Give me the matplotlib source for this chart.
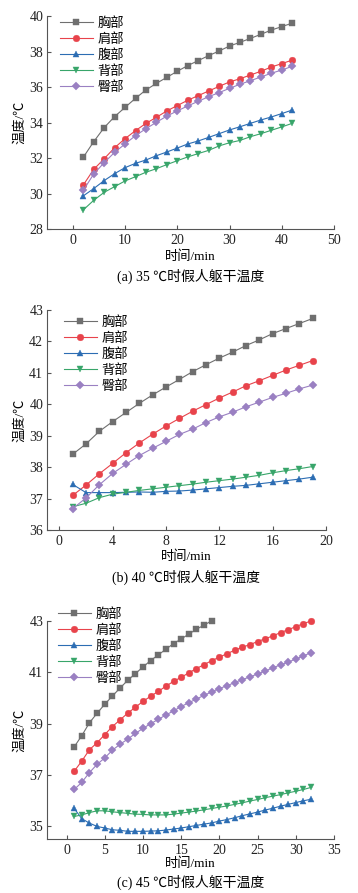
import matplotlib
matplotlib.use("Agg")
import matplotlib.pyplot as plt
import numpy as np

plt.rcParams['font.family'] = ['Liberation Serif', 'Noto Sans CJK SC']
plt.rcParams['axes.unicode_minus'] = False

names = ['胸部', '肩部', '腹部', '背部', '臀部']
colors = ['#6f6f6f', '#e8434b', '#2c6db3', '#38a56a', '#9a80c2']
markers = ['s', 'o', '^', 'v', 'D']

# (a) 35 ℃
t_a = np.arange(2, 43, 2)
a_chest = [32.05, 32.93, 33.72, 34.34, 34.86, 35.37, 35.84, 36.21, 36.55, 36.89, 37.21,
           37.49, 37.77, 38.03, 38.31, 38.52, 38.74, 38.97, 39.21, 39.40, 39.60]
a_shoulder = [30.49, 31.37, 31.97, 32.59, 33.10, 33.55, 33.96, 34.30, 34.66, 34.96, 35.26,
              35.52, 35.78, 36.04, 36.29, 36.47, 36.68, 36.89, 37.13, 37.32, 37.52]
a_belly = [29.88, 30.29, 30.74, 31.13, 31.47, 31.71, 31.90, 32.14, 32.35, 32.57, 32.80,
           32.97, 33.17, 33.38, 33.59, 33.77, 33.96, 34.15, 34.32, 34.51, 34.71]
a_back = [29.09, 29.63, 30.08, 30.40, 30.72, 30.96, 31.21, 31.41, 31.64, 31.86, 32.07,
          32.26, 32.44, 32.69, 32.87, 33.00, 33.21, 33.38, 33.57, 33.76, 33.96]
a_hip = [30.19, 31.11, 31.75, 32.33, 32.80, 33.27, 33.66, 34.02, 34.37, 34.66, 34.94,
         35.20, 35.46, 35.69, 35.93, 36.16, 36.36, 36.57, 36.78, 36.96, 37.17]

# (b) 40 ℃
t_b = np.arange(1, 20)
b_chest = [38.41, 38.74, 39.14, 39.45, 39.74, 40.03, 40.30, 40.55, 40.79, 41.04,
           41.26, 41.47, 41.66, 41.87, 42.05, 42.25, 42.41, 42.57, 42.73]
b_shoulder = [37.10, 37.43, 37.79, 38.12, 38.46, 38.77, 39.05, 39.31, 39.55, 39.78,
              39.99, 40.20, 40.39, 40.59, 40.75, 40.92, 41.09, 41.24, 41.39]
b_belly = [37.45, 37.19, 37.19, 37.19, 37.20, 37.21, 37.20, 37.23, 37.24, 37.27,
           37.31, 37.35, 37.39, 37.42, 37.47, 37.52, 37.57, 37.62, 37.68]
b_back = [36.74, 36.85, 37.03, 37.14, 37.20, 37.26, 37.31, 37.36, 37.41, 37.46,
          37.52, 37.57, 37.62, 37.68, 37.74, 37.82, 37.89, 37.95, 38.02]
b_hip = [36.68, 37.02, 37.44, 37.80, 38.09, 38.37, 38.60, 38.82, 39.04, 39.21,
         39.42, 39.60, 39.75, 39.92, 40.07, 40.22, 40.35, 40.49, 40.61]

# (c) 45 ℃
t_c = np.arange(1, 33)
t_c_chest = np.arange(1, 20)
c_chest = [38.10, 38.54, 39.04, 39.41, 39.76, 40.08, 40.39, 40.69, 40.95, 41.21,
           41.46, 41.68, 41.90, 42.12, 42.30, 42.49, 42.68, 42.84, 43.01]
c_shoulder = [37.15, 37.55, 37.99, 38.26, 38.58, 38.89, 39.15, 39.41, 39.64, 39.87,
              40.07, 40.26, 40.46, 40.65, 40.81, 40.98, 41.15, 41.30, 41.46, 41.59,
              41.73, 41.86, 41.98, 42.08, 42.20, 42.31, 42.42, 42.55, 42.66, 42.78,
              42.90, 43.00]
c_belly = [35.70, 35.30, 35.13, 35.00, 34.94, 34.87, 34.85, 34.81, 34.81, 34.81,
           34.82, 34.83, 34.86, 34.90, 34.94, 34.99, 35.04, 35.09, 35.14, 35.21,
           35.27, 35.34, 35.42, 35.49, 35.56, 35.64, 35.71, 35.79, 35.86, 35.93,
           36.00, 36.06]
c_back = [35.39, 35.45, 35.54, 35.61, 35.61, 35.57, 35.54, 35.51, 35.48, 35.47,
          35.45, 35.45, 35.45, 35.48, 35.52, 35.56, 35.60, 35.65, 35.70, 35.75,
          35.80, 35.86, 35.92, 35.99, 36.05, 36.12, 36.18, 36.24, 36.31, 36.37,
          36.44, 36.52]
c_hip = [36.44, 36.72, 37.10, 37.42, 37.67, 37.97, 38.20, 38.40, 38.62, 38.82,
         39.00, 39.17, 39.34, 39.50, 39.67, 39.82, 39.96, 40.11, 40.24, 40.37,
         40.48, 40.60, 40.72, 40.82, 40.94, 41.05, 41.18, 41.29, 41.40, 41.52,
         41.64, 41.77]

W, H = 358, 893

panels = [
    dict(xs=[t_a] * 5, ys=[a_chest, a_shoulder, a_belly, a_back, a_hip],
         xlim=(-5, 50), xticks=np.arange(0, 51, 10), ylim=(28, 40), yticks=np.arange(28, 41, 2),
         caption='(a) 35 ℃时假人躯干温度', box=(46.7, 16, 334, 229.3),
         leg=(60, 17), xlab_y=257, cap_y=276),
    dict(xs=[t_b] * 5, ys=[b_chest, b_shoulder, b_belly, b_back, b_hip],
         xlim=(-0.95, 20), xticks=np.arange(0, 21, 4), ylim=(36, 43), yticks=np.arange(36, 44, 1),
         caption='(b) 40 ℃时假人躯干温度', box=(46.7, 310, 326, 530),
         leg=(64, 316), xlab_y=557, cap_y=577),
    dict(xs=[t_c_chest, t_c, t_c, t_c, t_c], ys=[c_chest, c_shoulder, c_belly, c_back, c_hip],
         xlim=(-2.6, 35), xticks=np.arange(0, 36, 5), ylim=(34.5, 43), yticks=np.arange(35, 44, 2),
         caption='(c) 45 ℃时假人躯干温度', box=(46.7, 621, 334, 839.3),
         leg=(58, 608), xlab_y=864, cap_y=882),
]

fig = plt.figure(figsize=(W / 100, H / 100), dpi=100)

for p in panels:
    x0, y0, x1, y1 = p['box']
    ax = fig.add_axes([x0 / W, 1 - y1 / H, (x1 - x0) / W, (y1 - y0) / H])
    for x, y, name, c, m in zip(p['xs'], p['ys'], names, colors, markers):
        ms = 4.2 if m == 'D' else 4.8
        ax.plot(x, y, color=c, marker=m, markersize=ms, linewidth=0.8,
                markeredgewidth=0.3, label=name, clip_on=False)
    ax.set_xlim(*p['xlim'])
    ax.set_ylim(*p['ylim'])
    ax.set_xticks(p['xticks'])
    ax.set_yticks(p['yticks'])
    ax.spines['top'].set_visible(False)
    ax.spines['right'].set_visible(False)
    for s in ['left', 'bottom']:
        ax.spines[s].set_linewidth(0.8)
        ax.spines[s].set_color('#555555')
    ax.tick_params(direction='in', length=3, width=0.8, labelsize=10,
                   color='#555555', labelcolor='#222222')
    ax.tick_params(axis='y', pad=2.5)
    ax.tick_params(axis='x', pad=3.5)
    ax.set_ylabel('温度/℃', fontsize=9.5, labelpad=2)
    lx, ly = p['leg']
    ax.legend(loc='upper left', frameon=False, fontsize=9.5, handlelength=2.5,
              handletextpad=0.35, labelspacing=0.25, borderpad=0, borderaxespad=0,
              bbox_to_anchor=(lx / W, 1 - ly / H), bbox_transform=fig.transFigure)
    xc = (x0 + x1) / 2 / W
    fig.text(xc, 1 - p['xlab_y'] / H, '时间/min', ha='center', va='center', fontsize=9.5)
    fig.text(xc, 1 - p['cap_y'] / H, p['caption'], ha='center', va='center', fontsize=10)

fig.savefig('out.png', dpi=100)
